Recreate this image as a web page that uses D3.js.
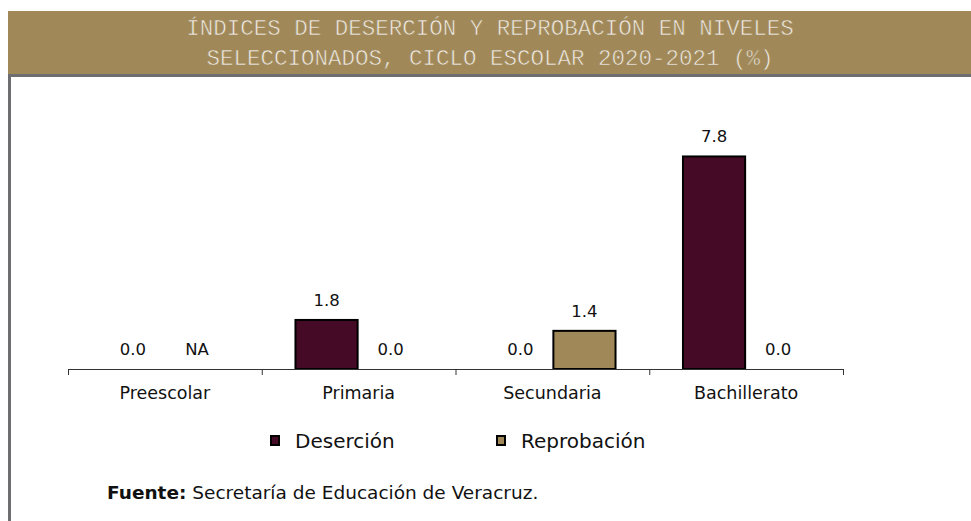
<!DOCTYPE html>
<html>
<head>
<meta charset="utf-8">
<script src="https://cdn.jsdelivr.net/npm/d3@7"></script>
<style>
  body { margin: 0; background: #fff; }
  text { font-family: "DejaVu Sans", Verdana, sans-serif; fill: #111; }
</style>
</head>
<body>
<div id="chart"></div>
<script>
// Data
const categories = ["Preescolar", "Primaria", "Secundaria", "Bachillerato"];
const series = ["Deserción", "Reprobación"];
const desercion = [0.0, 1.8, 0.0, 7.8];
const reprobacion = [null, 0.0, 1.4, 0.0];
const titleLines = ["ÍNDICES DE DESERCIÓN Y REPROBACIÓN EN NIVELES",
                    "SELECCIONADOS, CICLO ESCOLAR 2020-2021 (%)"];
const fuente = "Secretaría de Educación de Veracruz.";

const colors = {"Deserción": "#450a25", "Reprobación": "#a08858"};

const W = 971, H = 521;
const svg = d3.select("#chart").append("svg")
    .attr("width", W).attr("height", H);

// Title banner
svg.append("rect")
    .attr("x", 8).attr("y", 11).attr("width", W - 8).attr("height", 63)
    .attr("fill", "#a08858");
svg.append("rect")
    .attr("x", 8).attr("y", 74).attr("width", W - 8).attr("height", 3)
    .attr("fill", "#6e6e72");
svg.append("rect")
    .attr("x", 8).attr("y", 74).attr("width", 3).attr("height", H - 74)
    .attr("fill", "#6e6e72");

// thin strokes: banner-coloured outline drawn over the fill
svg.selectAll(".title")
  .data(titleLines)
  .enter().append("text")
    .attr("class", "title")
    .attr("x", 490)
    .attr("y", (d, i) => 35 + i * 30)
    .attr("text-anchor", "middle")
    .style("font-family", "'Liberation Mono', 'Courier New', monospace")
    .style("font-size", "22.5px")
    .style("fill", "#efebe3")
    .style("stroke", "#a08858")
    .style("stroke-width", "0.6px")
    .text(d => d);

// Scales
const x = d3.scaleBand()
    .domain(categories)
    .range([68, 843])
    .padding(0);
const xs = d3.scaleBand()
    .domain(series)
    .range([0, x.bandwidth()])
    .paddingInner(0)
    .paddingOuter(0.51);
const y = d3.scaleLinear()
    .domain([0, 9])
    .range([369, 369 - 9 * 27.25]);

const rows = categories.map((c, i) => ({
  cat: c,
  vals: [{s: series[0], v: desercion[i]}, {s: series[1], v: reprobacion[i]}]
}));

const g = svg.selectAll(".grp")
  .data(rows)
  .enter().append("g")
    .attr("class", "grp")
    .attr("transform", d => `translate(${x(d.cat)},0)`);

g.selectAll("rect")
  .data(d => d.vals.filter(v => v.v !== null && v.v > 0))
  .enter().append("rect")
    .attr("x", d => xs(d.s) + 1)
    .attr("width", xs.bandwidth() - 2)
    .attr("y", d => y(d.v))
    .attr("height", d => y(0) - y(d.v))
    .attr("fill", d => colors[d.s])
    .attr("stroke", "#000")
    .attr("stroke-width", 2);

g.selectAll(".lbl")
  .data(d => d.vals)
  .enter().append("text")
    .attr("class", "lbl")
    .attr("x", d => xs(d.s) + xs.bandwidth() / 2)
    .attr("y", d => y(d.v === null ? 0 : d.v) - 14)
    .attr("text-anchor", "middle")
    .style("font-size", "16.5px")
    .text(d => d.v === null ? "NA" : d.v.toFixed(1));

// Axis: boundary ticks
const edges = d3.scaleLinear().domain([0, categories.length]).range(x.range());
svg.append("g")
    .attr("transform", `translate(0,${y(0)})`)
    .call(d3.axisBottom(edges).ticks(categories.length).tickFormat("").tickSize(6).tickSizeOuter(6))
    .call(a => a.selectAll("line,path").attr("stroke", "#333"));

svg.append("g")
    .attr("transform", `translate(0,${y(0)})`)
    .call(d3.axisBottom(x).tickSize(0).tickPadding(18))
    .call(a => a.select(".domain").remove())
    .call(a => a.selectAll("text")
        .style("font-family", "'DejaVu Sans', Verdana, sans-serif")
        .style("font-size", "17.5px")
        .style("fill", "#111"));

// Legend
const legend = svg.selectAll(".leg")
  .data(series)
  .enter().append("g")
    .attr("class", "leg")
    .attr("transform", (d, i) => `translate(${[271, 497][i]},436)`);
legend.append("rect")
    .attr("width", 8).attr("height", 9)
    .attr("fill", d => colors[d])
    .attr("stroke", "#000").attr("stroke-width", 2);
legend.append("text")
    .attr("x", 24).attr("y", 12)
    .style("font-size", "20px")
    .text(d => d);

// Source
const src = svg.append("text")
    .attr("x", 107).attr("y", 499)
    .style("font-size", "18.5px");
src.append("tspan").style("font-weight", "bold").text("Fuente:");
src.append("tspan").text(" " + fuente);
</script>
</body>
</html>
